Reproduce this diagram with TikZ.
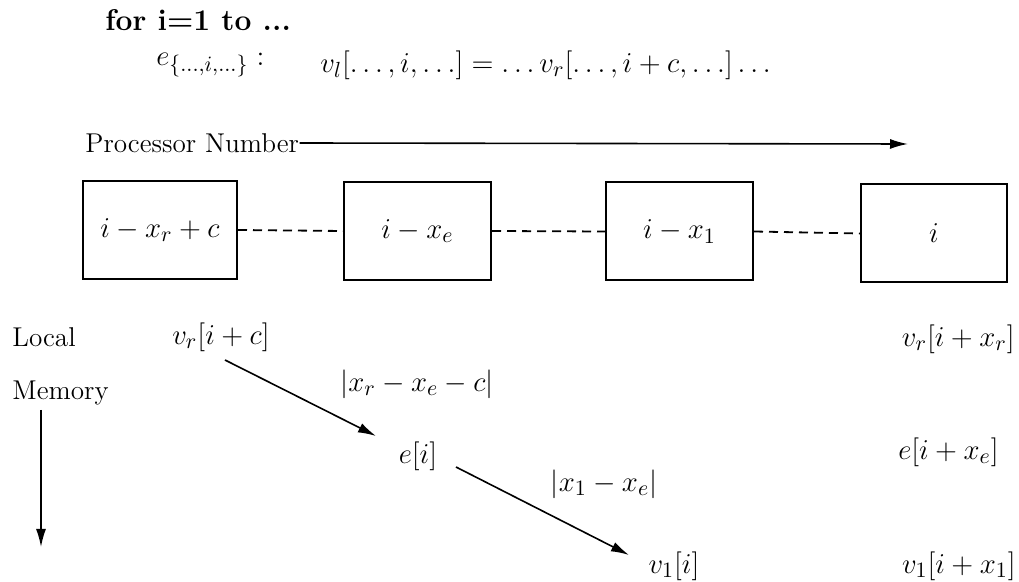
\documentclass[tikz,border=0pt]{standalone}
\usetikzlibrary{arrows.meta}
\begin{document}
\begin{tikzpicture}[x=0.5pt,y=-0.5pt,
  every node/.style={font=\fontsize{15}{17}\selectfont, inner sep=1pt},
  txt/.style={font=\fontsize{13.6}{16}\selectfont},
  pbox/.style={draw, line width=1pt, minimum height=49pt, inner sep=0pt},
  conn/.style={line width=0.9pt, dash pattern=on 4.5pt off 3pt},
  arr/.style={line width=0.8pt, -{Latex[length=9pt,width=5pt]}}]
\useasboundingbox (0,0) rectangle (1019,582);
% header
\node[anchor=west, font=\fontsize{15}{17}\selectfont\bfseries] (for) at (103,20) {for i=1 to ...};
\node[anchor=west] (eq) at (154,65) {$e_{\{\ldots,i,\ldots\}}:$};
\node[anchor=west] (stmt) at (318,65) {$v_l[\ldots,i,\ldots]=\ldots v_r[\ldots,i+c,\ldots]\ldots$};
% processor number axis
\node[txt, anchor=west, inner sep=0pt] (pn) at (85,143) {Processor Number};
\coordinate (pnend) at (908,144);
\draw[arr] (pn.east) -- (pnend);
% boxes
\node[pbox, minimum width=77pt] (b1) at (160,230) {$i-x_r+c$};
\node[pbox, minimum width=73.5pt] (b2) at (417.5,231) {$i-x_e$};
\node[pbox, minimum width=73.5pt] (b3) at (679.5,231.5) {$i-x_1$};
\node[pbox, minimum width=73pt] (b4) at (934,233.5) {$i$};
\draw[conn] (b1.east) -- (b2.west);
\draw[conn] (b2.east) -- (b3.west);
\draw[conn] (b3.east) -- (b4.west);
% local memory axis
\node[txt, anchor=west, inner sep=0pt] (loc) at (12,337) {Local};
\node[txt, anchor=west, inner sep=0pt] (mem) at (12,393) {Memory};
\coordinate (memtop) at (41,410);
\coordinate (membot) at (41,547);
\draw[arr] (memtop) -- (membot);
% memory cells
\node (vr) at (221,337) {$v_r[i+c]$};
\node (ei) at (418,456) {$e[i]$};
\node (v1) at (674,566) {$v_1[i]$};
\node[anchor=east] (vrx) at (1017,339) {$v_r[i+x_r]$};
\node[anchor=east] (eix) at (1001,452) {$e[i+x_e]$};
\node[anchor=east] (v1x) at (1018,566) {$v_1[i+x_1]$};
% transfers
\coordinate (a1s) at (225,360);
\coordinate (a1e) at (376,436);
\coordinate (a2s) at (456,467);
\coordinate (a2e) at (629,555);
\draw[arr] (a1s) -- (a1e);
\draw[arr] (a2s) -- (a2e);
\node (d1) at (417,384) {$|x_r-x_e-c|$};
\node (d2) at (604,484) {$|x_1-x_e|$};
\end{tikzpicture}
\end{document}
